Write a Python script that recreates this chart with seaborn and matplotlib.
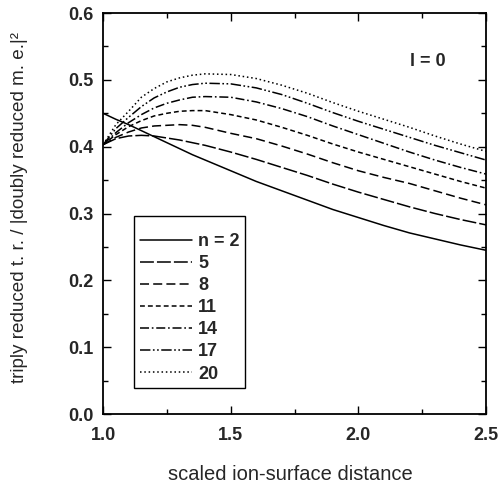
import numpy as np
import pandas as pd
import matplotlib
matplotlib.use("Agg")
import matplotlib.pyplot as plt
import seaborn as sns

x = [1.0, 1.05, 1.1, 1.15, 1.2, 1.25, 1.3, 1.35, 1.4, 1.5, 1.6, 1.7, 1.8, 1.9, 2.0, 2.1, 2.2, 2.3, 2.4, 2.5]
n2 = [0.450, 0.441, 0.433, 0.424, 0.415, 0.406, 0.397, 0.388, 0.380, 0.364, 0.348, 0.334, 0.320, 0.306, 0.294, 0.282, 0.271, 0.262, 0.253, 0.245]
n5 = [0.403, 0.412, 0.416, 0.417, 0.416, 0.413, 0.410, 0.406, 0.402, 0.392, 0.381, 0.369, 0.357, 0.344, 0.332, 0.321, 0.310, 0.300, 0.291, 0.283]
n8 = [0.403, 0.414, 0.422, 0.428, 0.431, 0.432, 0.433, 0.432, 0.429, 0.420, 0.412, 0.401, 0.389, 0.376, 0.364, 0.354, 0.345, 0.334, 0.323, 0.313]
n11 = [0.403, 0.418, 0.430, 0.439, 0.446, 0.450, 0.453, 0.454, 0.454, 0.448, 0.440, 0.429, 0.417, 0.404, 0.392, 0.381, 0.370, 0.359, 0.348, 0.338]
n14 = [0.403, 0.421, 0.436, 0.448, 0.458, 0.465, 0.470, 0.474, 0.475, 0.474, 0.467, 0.457, 0.445, 0.431, 0.418, 0.405, 0.392, 0.380, 0.369, 0.359]
n17 = [0.403, 0.427, 0.444, 0.460, 0.473, 0.482, 0.489, 0.493, 0.495, 0.494, 0.488, 0.478, 0.465, 0.451, 0.438, 0.426, 0.414, 0.402, 0.391, 0.380]
n20 = [0.403, 0.433, 0.453, 0.474, 0.487, 0.497, 0.503, 0.507, 0.509, 0.508, 0.502, 0.492, 0.480, 0.466, 0.453, 0.441, 0.429, 0.416, 0.404, 0.393]
labels = ["n = 2", "5", "8", "11", "14", "17", "20"]
series = [n2, n5, n8, n11, n14, n17, n20]
xticks = [1.0, 1.5, 2.0, 2.5]
yticks = [0.0, 0.1, 0.2, 0.3, 0.4, 0.5, 0.6]

sns.set_style("ticks")
plt.rcParams["font.family"] = ["Liberation Sans", "DejaVu Sans"]
plt.rcParams["lines.scale_dashes"] = False

df = pd.DataFrame({
    "x": np.tile(x, len(series)),
    "y": np.concatenate(series),
    "n": np.repeat(labels, len(x)),
})

dash_styles = ["", (10, 2.2), (6.5, 3), (3.5, 2.2), (6.5, 2, 1.2, 2), (7.5, 1.8, 1.2, 1.8, 1.2, 1.8), (1.1, 2.0)]

fig = plt.figure(figsize=(4.98, 4.92), dpi=100)
ax = fig.add_axes([0.207, 0.1585, 0.769, 0.815])
sns.lineplot(data=df, x="x", y="y", style="n", style_order=labels, dashes=dash_styles,
             color="black", linewidth=1.1, errorbar=None, ax=ax, legend="full")

leg0 = ax.get_legend()
handles = list(leg0.legend_handles)
for h in handles:
    h.set_color("black")
    h.set_linewidth(1.1)
leg0.remove()
leg = ax.legend(handles, labels, loc="lower left", bbox_to_anchor=(0.081, 0.065),
                frameon=True, fancybox=False, framealpha=1, edgecolor="black",
                handlelength=2.9, handletextpad=0.35, labelspacing=0.28, borderpad=0.3,
                borderaxespad=0, prop={"size": 13, "weight": "bold"},
                title=" ", title_fontsize=6)
leg.get_frame().set_linewidth(1.0)

ax.set_xlim(1.0, 2.5)
ax.set_ylim(0.0, 0.6)
ax.set_xticks(xticks)
ax.set_yticks(yticks)
ax.set_xticklabels([f"{v:.1f}" for v in xticks])
ax.set_yticklabels([f"{v:.1f}" for v in yticks])
ax.set_xticks([1.25, 1.75, 2.25], minor=True)
ax.set_yticks([0.05, 0.15, 0.25, 0.35, 0.45, 0.55], minor=True)
ax.tick_params(which="both", direction="in", top=True, right=True, width=1.0, color="black")
ax.tick_params(which="major", length=6, labelsize=13)
ax.tick_params(axis="x", which="major", pad=9.5)
ax.tick_params(axis="y", which="major", pad=7)
ax.tick_params(which="minor", length=3.5)
for lab in ax.get_xticklabels() + ax.get_yticklabels():
    lab.set_fontweight("bold")
for s in ax.spines.values():
    s.set_visible(True)
    s.set_linewidth(1.3)
    s.set_color("black")

ax.set_xlabel("scaled ion-surface distance", fontsize=14.5)
ax.xaxis.set_label_coords(0.49, -0.127)
ax.set_ylabel("triply reduced t. r. / |doubly reduced m. e.|²", fontsize=13.6)
ax.yaxis.set_label_coords(-0.196, 0.516)
ax.text(2.27, 0.528, "l = 0", fontsize=13, fontweight="bold", ha="center", va="center")

fig.savefig("out.png", dpi=100)
